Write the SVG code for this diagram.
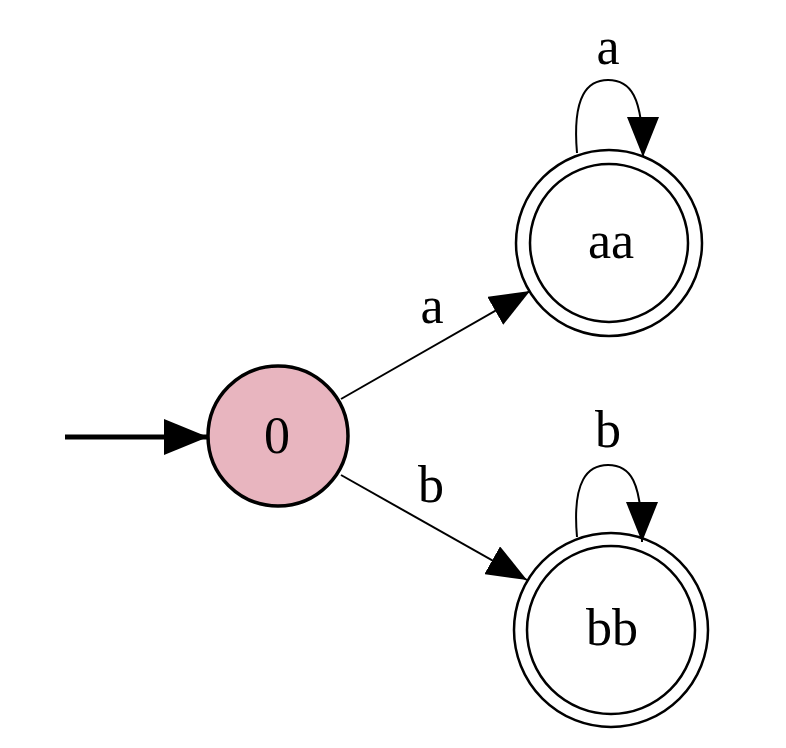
<svg xmlns="http://www.w3.org/2000/svg" width="786" height="748" viewBox="0 0 786 748">
<style>
  text { font-family: "Liberation Serif", "Times New Roman", serif; font-size: 52px; fill: #000; text-anchor: middle; }
  .edge { fill: none; stroke: #000; stroke-width: 2; }
  .init { fill: none; stroke: #000; stroke-width: 5; }
  .ring { fill: none; stroke: #000; stroke-width: 2.5; }
</style>
<defs>
  <marker id="arr" markerUnits="userSpaceOnUse" markerWidth="40" markerHeight="32" refX="40" refY="16" orient="auto">
    <path d="M0,0 L40,16 L0,32 z" fill="#000"/>
  </marker>
  <marker id="arrBig" markerUnits="userSpaceOnUse" markerWidth="44" markerHeight="36" refX="44" refY="18" orient="auto">
    <path d="M0,0 L44,18 L0,36 z" fill="#000"/>
  </marker>
</defs>
<rect width="786" height="748" fill="#fff"/>
<g id="connectors">
  <path class="init" d="M65,437 L208,437" marker-end="url(#arrBig)"/>
  <path class="edge" d="M341,399 L530,291" marker-end="url(#arr)"/>
  <path class="edge" d="M341,475 L527,580" marker-end="url(#arr)"/>
  <path class="edge" d="M577,153 C572,95 588,80 608,80 C630,80 643,95 643,157" marker-end="url(#arr)"/>
  <path class="edge" d="M577,537 C572,480 588,465 608,465 C630,465 642,480 642,542" marker-end="url(#arr)"/>
  <text x="432" y="323">a</text>
  <text x="431" y="502">b</text>
  <text x="608" y="64">a</text>
  <text x="608" y="447">b</text>
</g>
<g id="node-0">
  <circle cx="278" cy="436" r="70" fill="#e8b5bf" stroke="#000" stroke-width="3.5"/>
  <text x="277" y="453">0</text>
</g>
<g id="node-aa">
  <circle class="ring" cx="609" cy="243" r="93"/>
  <circle class="ring" cx="609" cy="243" r="79"/>
  <text x="611" y="258">aa</text>
</g>
<g id="node-bb">
  <circle class="ring" cx="611" cy="630" r="97"/>
  <circle class="ring" cx="611" cy="630" r="84"/>
  <text x="612" y="645">bb</text>
</g>
</svg>
